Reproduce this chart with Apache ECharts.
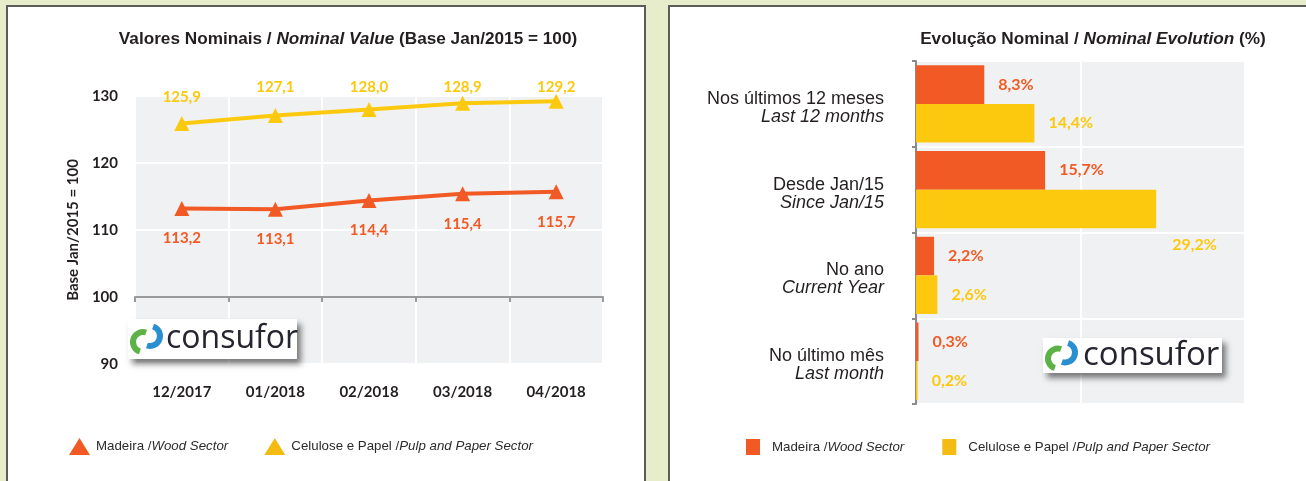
<!DOCTYPE html>
<html><head><meta charset="utf-8">
<script src="https://cdn.jsdelivr.net/npm/echarts@6/dist/echarts.min.js"></script>
<style>
html,body{margin:0;padding:0;width:1306px;height:481px;overflow:hidden;background:#e7edcb;}
.panel{position:absolute;background:#fff;border:2px solid #5b5b5b;box-sizing:border-box;}
#chart{position:absolute;left:0;top:0;width:1306px;height:481px;}
</style></head><body>
<div class="panel" style="left:6px;top:5px;width:640px;height:500px"></div>
<div class="panel" style="left:668px;top:5px;width:700px;height:500px"></div>
<div id="chart"></div>
<script>
// ---- data ----
const months = ['12/2017', '01/2018', '02/2018', '03/2018', '04/2018'];
const woodIndex = [113.2, 113.1, 114.4, 115.4, 115.7];
const pulpIndex = [125.9, 127.1, 128.0, 128.9, 129.2];
const indexMin = 90, indexMax = 130, indexStep = 10;

const periodsPt = ['Nos últimos 12 meses', 'Desde Jan/15', 'No ano', 'No último mês'];
const periodsEn = ['Last 12 months', 'Since Jan/15', 'Current Year', 'Last month'];
const woodEvolution = [8.3, 15.7, 2.2, 0.3];
const pulpEvolution = [14.4, 29.2, 2.6, 0.2];
const evoMin = 0, evoMax = 40, evoStep = 20;

const namesPt = ['Madeira', 'Celulose e Papel'];
const namesEn = ['Wood Sector', 'Pulp and Paper Sector'];
const leftTitle = ['Valores Nominais / ', 'Nominal Value', ' (Base Jan/2015 = 100)'];
const rightTitle = ['Evolução Nominal / ', 'Nominal Evolution', ' (%)'];
const yAxisName = 'Base Jan/2015 = 100';

// ---- styles ----
const ORANGE = '#f15a24', YELLOW = '#fcc90f', YELLOW_LEG = '#f4bb13';
const DARK = '#231f20';
const NUM = 'Lato';
const SANS = '"Liberation Sans", Arial, sans-serif';
const fmt = v => v.toFixed(1).replace('.', ',');

const enOf = n => namesEn[namesPt.indexOf(n)];
const legendRich = (pad) => ({
  a: {fontFamily: SANS, fontSize: 13.3, color: '#2b2b2b', padding: [0, 0, 0, pad]},
  b: {fontFamily: SANS, fontSize: 13.3, color: '#2b2b2b', fontStyle: 'italic'}
});
const titleRich = {
  a: {fontFamily: SANS, fontSize: 17.2, fontWeight: 'bold', color: DARK},
  b: {fontFamily: SANS, fontSize: 17.2, fontWeight: 'bold', fontStyle: 'italic', color: DARK}
};

// label nudges for the left chart (yellow labels sit on a common row)
const pulpLabelDy = [0, -2, 4, 10, 12];
// label shift for the long bar in right chart
const evoLabelShift = {1: [2, 36]};

function logo(x, y, w, h, fs, tx) {
  const c = h / 2;
  return {
    type: 'group', left: x, top: y, z: 100, children: [
      {type: 'rect', z: 100, shape: {x: 0, y: 0, width: w, height: h},
        style: {fill: '#fff', shadowBlur: 6, shadowOffsetX: 4, shadowOffsetY: 5, shadowColor: 'rgba(0,0,0,0.5)'}},
      {type: 'arc', z: 101, shape: {cx: 15, cy: c + 3, r: 10, startAngle: Math.PI * 0.6, endAngle: Math.PI * 1.6},
        style: {stroke: '#5cb247', lineWidth: 6, fill: null}},
      {type: 'arc', z: 101, shape: {cx: 22, cy: c - 3, r: 10, startAngle: Math.PI * 1.6, endAngle: Math.PI * 2.6},
        style: {stroke: '#2a8fd0', lineWidth: 6, fill: null}},
      {type: 'text', z: 102, x: tx, y: c, style: {text: 'consufor', fontSize: fs, fontFamily: '"Open Sans"', fill: '#25252f', verticalAlign: 'middle'}}
    ]
  };
}

const chart = echarts.init(document.getElementById('chart'), null, {renderer: 'canvas'});
chart.setOption({
  backgroundColor: 'transparent',
  animation: false,
  title: [
    {text: `{a|${leftTitle[0]}}{b|${leftTitle[1]}}{a|${leftTitle[2]}}`, left: 343, top: 26, textAlign: 'center',
      textStyle: {rich: titleRich}},
    {text: `{a|${rightTitle[0]}}{b|${rightTitle[1]}}{a|${rightTitle[2]}}`, left: 1088, top: 26, textAlign: 'center',
      textStyle: {rich: titleRich}}
  ],
  legend: [
    {left: 64, top: 433, itemWidth: 21, itemHeight: 17, itemGap: 36,
      data: namesPt.map((n, i) => ({name: n, icon: 'triangle', itemStyle: {color: i ? YELLOW_LEG : ORANGE}})),
      formatter: n => `{a|${n} /}{b|${enOf(n)}}`, textStyle: {rich: legendRich(1)}, selectedMode: false},
    {left: 741, top: 434, itemWidth: 14, itemHeight: 16, itemGap: 38,
      data: namesPt.map((n, i) => ({name: n, icon: 'rect', itemStyle: {color: i ? YELLOW_LEG : ORANGE}})),
      formatter: n => `{a|${n} /}{b|${enOf(n)}}`, textStyle: {rich: legendRich(7)}, selectedMode: false}
  ],
  grid: [
    {left: 135, top: 96, width: 468, height: 268, show: true, backgroundColor: '#f0f1f3', borderWidth: 0},
    {left: 916, top: 61, width: 329, height: 343, show: true, backgroundColor: '#f0f1f3', borderWidth: 0}
  ],
  xAxis: [
    {type: 'category', gridIndex: 0, data: months, boundaryGap: true,
      axisLine: {show: false}, axisTick: {show: false},
      splitLine: {show: true, lineStyle: {color: '#ffffff', width: 2}},
      axisLabel: {margin: 21, fontFamily: NUM, fontWeight: 'bold', fontSize: 15, color: DARK}},
    {type: 'category', gridIndex: 0, data: months, position: 'bottom',
      offset: -(100 - indexMin) / (indexMax - indexMin) * 268,
      axisLine: {show: true, lineStyle: {color: '#9a9a9a', width: 2}},
      axisTick: {show: true, length: 5, lineStyle: {color: '#9a9a9a', width: 2}},
      axisLabel: {show: false}, splitLine: {show: false}},
    {type: 'value', gridIndex: 1, min: evoMin, max: evoMax, interval: evoStep,
      axisLine: {show: false}, axisTick: {show: false}, axisLabel: {show: false},
      splitLine: {show: true, lineStyle: {color: '#ffffff', width: 2}}}
  ],
  yAxis: [
    {type: 'value', gridIndex: 0, min: indexMin, max: indexMax, interval: indexStep,
      name: yAxisName, nameLocation: 'middle', nameRotate: 90, nameGap: 54,
      nameTextStyle: {fontFamily: NUM, fontWeight: 'bold', fontSize: 15, color: DARK},
      axisLine: {show: false}, axisTick: {show: false},
      splitLine: {show: true, lineStyle: {color: '#ffffff', width: 2}},
      axisLabel: {margin: 17, fontFamily: NUM, fontWeight: 'bold', fontSize: 15, color: DARK}},
    {type: 'category', gridIndex: 1, data: periodsPt, inverse: true,
      axisLine: {show: true, lineStyle: {color: '#8a8a8a', width: 2}},
      axisTick: {show: true, length: 4, lineStyle: {color: '#8a8a8a', width: 2}},
      splitLine: {show: true, lineStyle: {color: '#ffffff', width: 2}},
      axisLabel: {margin: 32, align: 'right', padding: [8, 0, 0, 0],
        formatter: (v, i) => `{a|${periodsPt[i]}}\n{b|${periodsEn[i]}}`,
        rich: {
          a: {fontFamily: SANS, fontSize: 18, color: DARK, lineHeight: 18, align: 'right'},
          b: {fontFamily: SANS, fontSize: 18, color: DARK, lineHeight: 18, fontStyle: 'italic', align: 'right'}
        }}}
  ],
  series: [
    {name: namesPt[0], type: 'line', xAxisIndex: 0, yAxisIndex: 0, data: woodIndex,
      symbol: 'triangle', symbolSize: 15, lineStyle: {color: ORANGE, width: 4}, itemStyle: {color: ORANGE},
      label: {show: true, position: 'bottom', distance: 15, formatter: p => fmt(p.value),
        fontFamily: NUM, fontWeight: 'bold', fontSize: 15, color: ORANGE}},
    {name: namesPt[1], type: 'line', xAxisIndex: 0, yAxisIndex: 0,
      data: pulpIndex.map((v, i) => ({value: v, label: {offset: [0, pulpLabelDy[i]]}})),
      symbol: 'triangle', symbolSize: 15, lineStyle: {color: YELLOW, width: 4}, itemStyle: {color: YELLOW},
      label: {show: true, position: 'top', distance: 11, formatter: p => fmt(p.value),
        fontFamily: NUM, fontWeight: 'bold', fontSize: 15, color: YELLOW}},
    {name: namesPt[0], type: 'bar', xAxisIndex: 2, yAxisIndex: 1, data: woodEvolution,
      barGap: '0%', barCategoryGap: '10%', itemStyle: {color: ORANGE},
      label: {show: true, position: 'right', distance: 14, formatter: p => fmt(p.value) + '%',
        fontFamily: NUM, fontWeight: 'bold', fontSize: 16, color: ORANGE}},
    {name: namesPt[1], type: 'bar', xAxisIndex: 2, yAxisIndex: 1,
      data: pulpEvolution.map((v, i) => evoLabelShift[i] ? {value: v, label: {offset: evoLabelShift[i]}} : v),
      barGap: '0%', barCategoryGap: '10%', itemStyle: {color: YELLOW},
      label: {show: true, position: 'right', distance: 14, formatter: p => fmt(p.value) + '%',
        fontFamily: NUM, fontWeight: 'bold', fontSize: 16, color: YELLOW}}
  ],
  graphic: [
    logo(128, 319, 169, 40, 32, 38),
    logo(1043, 338, 179, 35, 33, 40)
  ]
});
</script>
</body></html>
